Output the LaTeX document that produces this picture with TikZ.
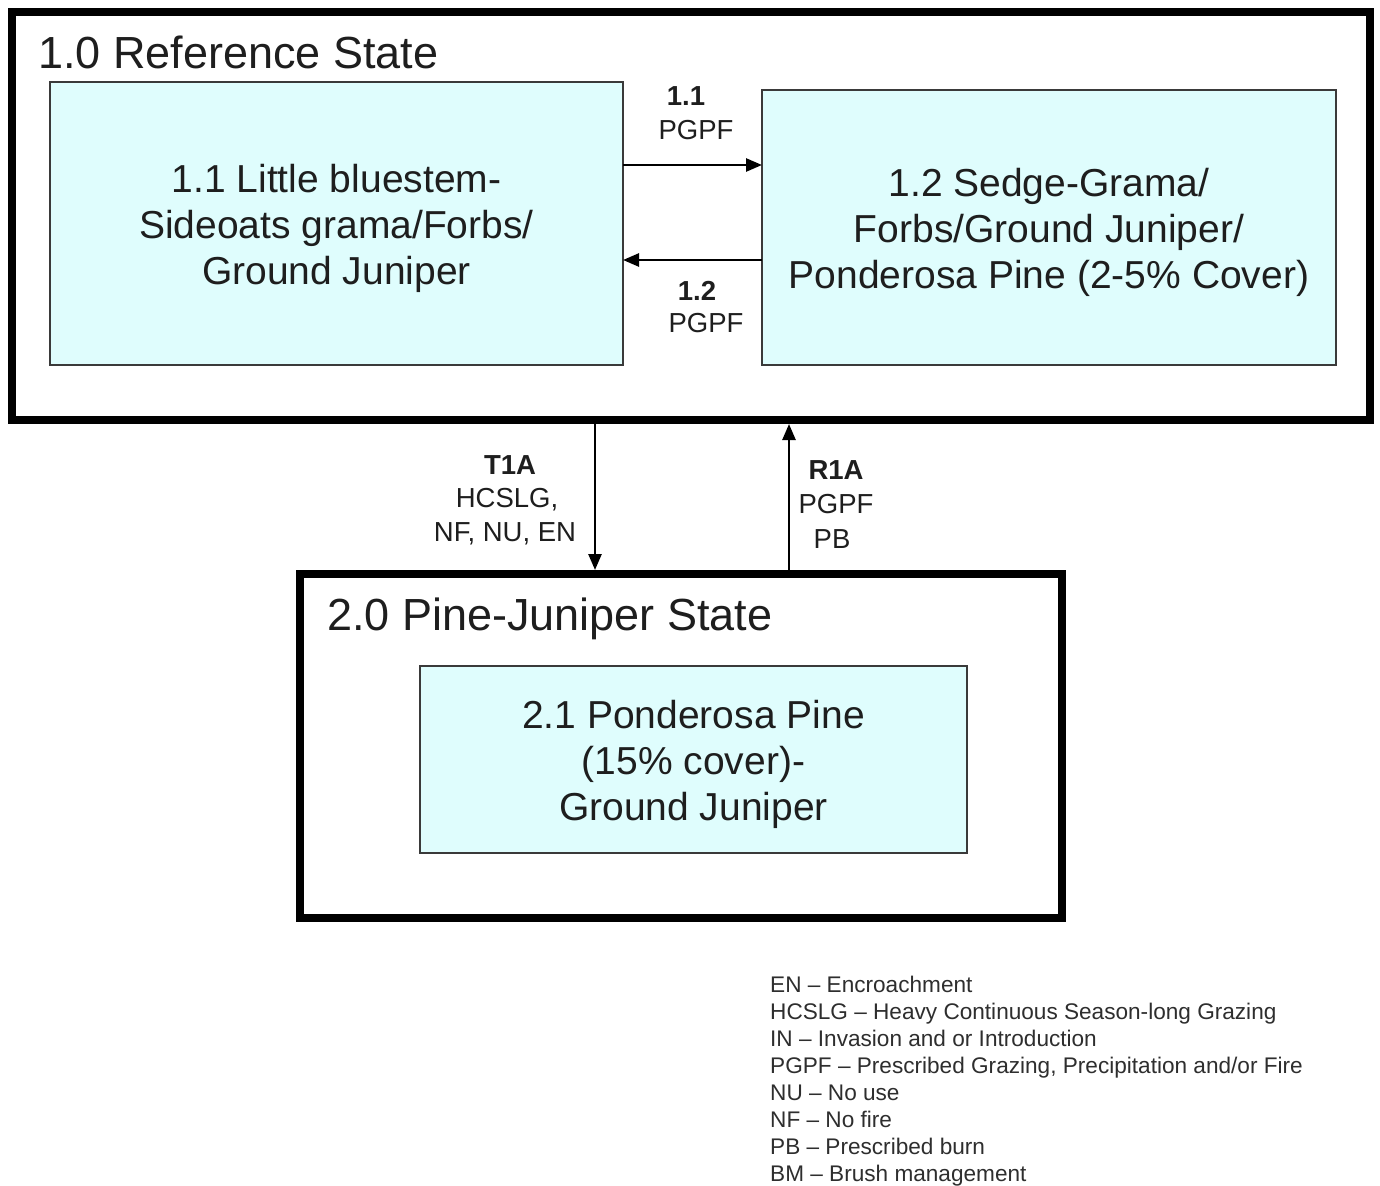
\documentclass[tikz,border=0pt]{standalone}
\usepackage{fontspec}
\setmainfont{Liberation Sans}
\usetikzlibrary{arrows.meta}
\definecolor{boxfill}{HTML}{DFFDFD}
\definecolor{boxline}{HTML}{3A3A3A}
\definecolor{txt}{HTML}{1E1E1E}
\tikzset{
  statebox/.style={draw=black, line width=8.5pt, minimum width=#1, inner sep=0pt, outer sep=0pt, anchor=north west},
  phasebox/.style={draw=boxline, fill=boxfill, line width=2pt, anchor=north west, inner sep=0pt, outer sep=0pt},
  phasetext/.style={inner sep=0pt, align=center, text=txt, yshift=-5pt, font=\fontsize{39}{46}\selectfont},
  title/.style={anchor=west, inner sep=0pt, text=txt, font=\fontsize{45}{50}\selectfont},
  elab/.style={inner sep=0pt, text=txt, font=\fontsize{27.5}{34}\selectfont},
  belab/.style={elab, font=\fontsize{27.5}{34}\selectfont\bfseries},
  arr/.style={line width=2.6pt, -{Triangle[length=16pt,width=13pt]}},
}
\begin{document}
\begin{tikzpicture}[x=1pt,y=-1pt]
\useasboundingbox[fill=white] (0,0) rectangle (1380,1185);
% state containers
\node[statebox=1358pt, minimum height=408pt] (s1) at (12,12) {};
\node[statebox=762pt, minimum height=344pt] (s2) at (300,574) {};
\node[title] (t1) at (38,52) {1.0 Reference State};
\node[title] (t2) at (327,619) {2.0 Pine-Juniper State};
% phase boxes
\node[phasebox, minimum width=573pt, minimum height=283pt] (p11) at (50,82) {};
\node[phasetext] (p11t) at (p11.center) {1.1 Little bluestem-\\Sideoats grama/Forbs/\\Ground Juniper};
\node[phasebox, minimum width=574pt, minimum height=275pt] (p12) at (762,90) {};
\node[phasetext] (p12t) at (p12.center) {1.2 Sedge-Grama/\\Forbs/Ground Juniper/\\Ponderosa Pine (2-5\% Cover)};
\node[phasebox, minimum width=547pt, minimum height=187pt] (p21) at (420,666) {};
\node[phasetext] (p21t) at (p21.center) {2.1 Ponderosa Pine\\(15\% cover)-\\Ground Juniper};
% coordinates for connectors
\coordinate (a1s) at (p11.east |- 0,165);
\coordinate (a1e) at (p12.west |- 0,165);
\coordinate (a2s) at (p12.west |- 0,260);
\coordinate (a2e) at (p11.east |- 0,260);
\coordinate (ts) at (595,424);
\coordinate (te) at (595,570);
\coordinate (rs) at (789,570);
\coordinate (re) at (789,424);
\draw[arr] (a1s) -- (a1e);
\draw[arr] (a2s) -- (a2e);
\draw[arr] (ts) -- (te);
\draw[arr] (rs) -- (re);
% edge labels
\node[belab] (l11a) at (686,96) {1.1};
\node[elab] (l11b) at (696,130) {PGPF};
\node[belab] (l12a) at (697,291) {1.2};
\node[elab] (l12b) at (706,323) {PGPF};
\node[belab] (lta) at (510,465) {T1A};
\node[elab] (ltb) at (507,500) {HCSLG,};
\node[elab] (ltc) at (505,534) {NF, NU, EN};
\node[belab] (lra) at (836,470) {R1A};
\node[elab] (lrb) at (836,504) {PGPF};
\node[elab] (lrc) at (832,539) {PB};
% legend
\node[anchor=north west, inner sep=0pt, align=left, text=black!82, font=\fontsize{22.6}{27}\selectfont] (leg) at (770,976)
  {EN -- Encroachment\\
   HCSLG -- Heavy Continuous Season-long Grazing\\
   IN -- Invasion and or Introduction\\
   PGPF -- Prescribed Grazing, Precipitation and/or Fire\\
   NU -- No use\\
   NF -- No fire\\
   PB -- Prescribed burn\\
   BM -- Brush management};
\end{tikzpicture}
\end{document}
